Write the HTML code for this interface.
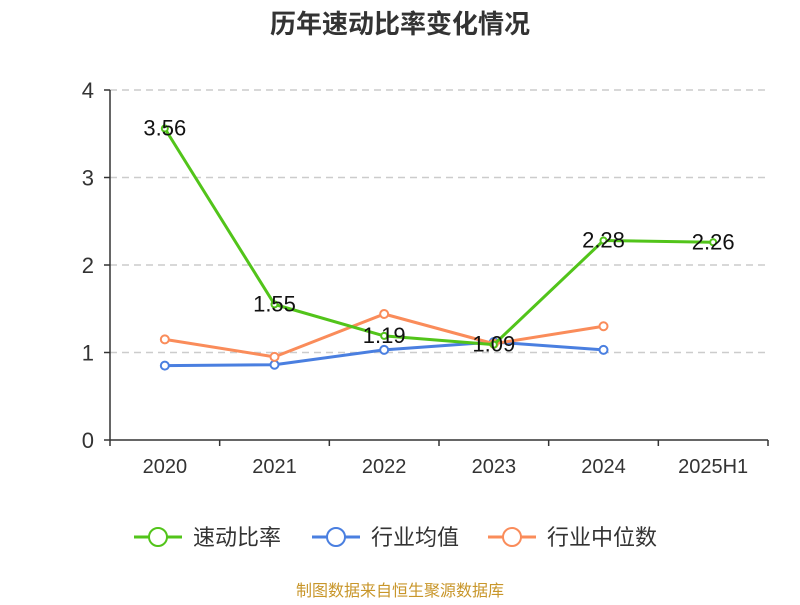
<!DOCTYPE html>
<html><head><meta charset="utf-8"><style>
body{margin:0;background:#fff;}
svg text{font-family:"Liberation Sans","Noto Sans CJK SC",sans-serif;}
</style></head><body>
<svg id="c" width="800" height="600" xmlns="http://www.w3.org/2000/svg">
<text x="400" y="33" text-anchor="middle" font-size="26" font-weight="bold" fill="#333">历年速动比率变化情况</text>
<g id="grid"></g><g id="axes"></g><g id="series"></g><g id="labels"></g>
<g>
 <g><line x1="134" y1="537" x2="182" y2="537" stroke="#52c41a" stroke-width="3"/><circle cx="158" cy="537" r="9" fill="#fff" stroke="#52c41a" stroke-width="2"/><text x="193" y="545" font-size="22" fill="#333">速动比率</text></g>
 <g><line x1="312" y1="537" x2="360" y2="537" stroke="#4a7fe0" stroke-width="3"/><circle cx="336" cy="537" r="9" fill="#fff" stroke="#4a7fe0" stroke-width="2"/><text x="371" y="545" font-size="22" fill="#333">行业均值</text></g>
 <g><line x1="488" y1="537" x2="536" y2="537" stroke="#fa8c5a" stroke-width="3"/><circle cx="512" cy="537" r="9" fill="#fff" stroke="#fa8c5a" stroke-width="2"/><text x="547" y="545" font-size="22" fill="#333">行业中位数</text></g>
</g>
<text x="400" y="596" text-anchor="middle" font-size="16" fill="#c8962a">制图数据来自恒生聚源数据库</text>
</svg>
<script>
const categories=["2020","2021","2022","2023","2024","2025H1"];
const quickRatio=[3.56,1.55,1.19,1.09,2.28,2.26];
const industryAvg=[0.85,0.86,1.03,1.12,1.03];
const industryMedian=[1.15,0.95,1.44,1.10,1.30];
const yTicks=[0,1,2,3,4];
const NS="http://www.w3.org/2000/svg";
const L=110,R=768,T=90,B=440,yMax=4;
const bw=(R-L)/categories.length;
const x=i=>L+bw*(i+0.5);
const y=v=>B-(v/yMax)*(B-T);
function mk(tag,attrs,parent){const e=document.createElementNS(NS,tag);for(const k in attrs)e.setAttribute(k,attrs[k]);document.getElementById(parent).appendChild(e);return e;}
yTicks.forEach(t=>{
 if(t>0){const g=mk("line",{x1:L,x2:R,y1:y(t),y2:y(t),stroke:"#ccc","stroke-width":1.5,"stroke-dasharray":"7,5"},"grid");
 
 }
 const tk=mk("line",{x1:L-6,x2:L,y1:y(t),y2:y(t),stroke:"#333","stroke-width":1.5},"axes");
 
 
 const tx=mk("text",{x:L-16,y:y(t)+8,"text-anchor":"end","font-size":22,fill:"#333"},"axes");tx.textContent=t;
 
 
});
const ya=mk("line",{x1:L,x2:L,y1:T,y2:B,stroke:"#333","stroke-width":1.5},"axes");


const xa=mk("line",{x1:L,x2:R,y1:B,y2:B,stroke:"#333","stroke-width":1.5},"axes");


for(let i=0;i<=categories.length;i++){const t=mk("line",{x1:L+bw*i,x2:L+bw*i,y1:B,y2:B+6,stroke:"#333","stroke-width":1.5},"axes");
 
 }
categories.forEach((c,i)=>{const t=mk("text",{x:x(i),y:B+33,"text-anchor":"middle","font-size":20,fill:"#333"},"axes");t.textContent=c;
 
 });
function series(data,color,name,r){
 const p=mk("polyline",{points:data.map((v,i)=>x(i)+","+y(v)).join(" "),fill:"none",stroke:color,"stroke-width":3,"stroke-linejoin":"round"},"series");
 
 
 data.forEach((v,i)=>{const c=mk("circle",{cx:x(i),cy:y(v),r:r,fill:"#fff",stroke:color,"stroke-width":2},"series");
  
  });
}
series(industryAvg,"#4a7fe0","industry-average",4);
series(industryMedian,"#fa8c5a","industry-median",4);
series(quickRatio,"#52c41a","quick-ratio",3);
quickRatio.forEach((v,i)=>{const t=mk("text",{x:x(i),y:y(v)+7,"text-anchor":"middle","font-size":22,fill:"#111"},"labels");t.textContent=v.toFixed(2);
 
 });
</script>
</body></html>
